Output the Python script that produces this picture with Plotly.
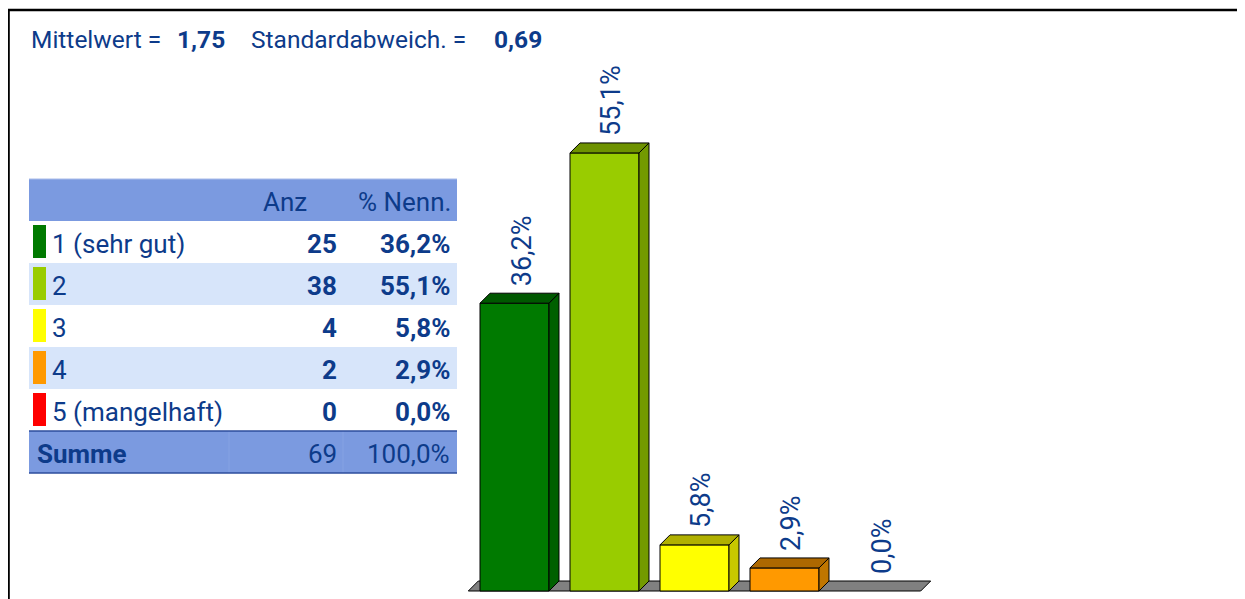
import plotly.graph_objects as go

# ---------------- data ----------------
categories = ["1 (sehr gut)", "2", "3", "4", "5 (mangelhaft)"]
counts = [25, 38, 4, 2, 0]
percents = [36.2, 55.1, 5.8, 2.9, 0.0]
total_label = "Summe"
total_count = 69
total_percent = 100.0
mean_value = "1,75"
std_value = "0,69"
header_labels = ["Anz", "% Nenn."]

front_colors = ["#007a00", "#99cc00", "#ffff00", "#ff9900", "#ff0000"]
side_colors = ["#006000", "#739a00", "#c8c800", "#c07600", "#c00000"]
top_colors = ["#005800", "#6e9200", "#b0b000", "#ad6800", "#a00000"]

# ---------------- style ----------------
OFF = 8  # page body margin
W, H = 1245 - OFF, 599 - OFF
TXT = "#0d3b8a"
FONT = "Roboto, sans-serif"
HEAD_BG = "#7b9ae0"
ROW_ALT = "#d7e5fa"
TS = 26     # table font size
TT = 24.5   # title font size


def px(x):
    return (x - OFF) / W


def py(y):
    return 1 - (y - OFF) / H


def fmt_pct(v):
    return f"{v:.1f}".replace(".", ",") + "%"


fig = go.Figure()

# 3D geometry (data units)
half = 0.3833
dx = 0.111
dy = 1.258
pad = 0.13
n = len(categories)

fx0, fx1 = -half - pad, (n - 1) + half + pad
fig.add_trace(go.Scatter(
    x=[fx0, fx1, fx1 + dx, fx0 + dx, fx0], y=[0, 0, dy, dy, 0],
    fill="toself", fillcolor="#808080", mode="lines",
    line=dict(color="black", width=1), hoverinfo="skip", showlegend=False))

for i, v in enumerate(percents):
    if v > 0:
        l, r = i - half, i + half
        fig.add_trace(go.Scatter(
            x=[l, r, r, l, l], y=[0, 0, v, v, 0], fill="toself",
            fillcolor=front_colors[i], mode="lines",
            line=dict(color="black", width=1), hoverinfo="skip", showlegend=False))
        fig.add_trace(go.Scatter(
            x=[r, r + dx, r + dx, r, r], y=[0, dy, v + dy, v, 0], fill="toself",
            fillcolor=side_colors[i], mode="lines",
            line=dict(color="black", width=1), hoverinfo="skip", showlegend=False))
        fig.add_trace(go.Scatter(
            x=[l, r, r + dx, l + dx, l], y=[v, v, v + dy, v + dy, v], fill="toself",
            fillcolor=top_colors[i], mode="lines",
            line=dict(color="black", width=1), hoverinfo="skip", showlegend=False))
    fig.add_annotation(
        x=i + dx / 2, y=v + dy, xref="x", yref="y", text=fmt_pct(v),
        textangle=-90, showarrow=False, xanchor="center", yanchor="bottom",
        yshift=5, xshift=2, font=dict(family=FONT, size=27, color=TXT))

fig.update_xaxes(range=[-0.6056, 4.7278], domain=[px(460), px(940)], visible=False, fixedrange=True)
fig.update_yaxes(range=[-0.503, 66.79], domain=[py(595), py(60)], visible=False, fixedrange=True)

shapes = []
annots = []

# frame lines
shapes.append(dict(type="line", xref="paper", yref="paper", x0=px(7), x1=px(1245), y0=py(10), y1=py(10),
                   line=dict(color="black", width=2.5)))
shapes.append(dict(type="line", xref="paper", yref="paper", x0=px(8.7), x1=px(8.7), y0=py(9), y1=py(600),
                   line=dict(color="black", width=2.2)))

# title
title_parts = [("Mittelwert =", 29, False), (mean_value, 175, True),
               ("Standardabweich. =", 249, False), (std_value, 492, True)]
for t, xx, b in title_parts:
    annots.append(dict(x=px(xx), y=py(40), xref="paper", yref="paper", text=f"<b>{t}</b>" if b else t,
                       showarrow=False, xanchor="left", yanchor="middle",
                       font=dict(family=FONT, size=TT, color=TXT)))

# table
TX0, TX1 = 29, 457
ROW_H = 42
HEAD_TOP = 179
shapes.append(dict(type="rect", xref="paper", yref="paper", x0=px(TX0), x1=px(TX1),
                   y0=py(HEAD_TOP), y1=py(HEAD_TOP + ROW_H), fillcolor=HEAD_BG, line=dict(width=0)))
shapes.append(dict(type="line", xref="paper", yref="paper", x0=px(TX0), x1=px(TX1),
                   y0=py(HEAD_TOP), y1=py(HEAD_TOP), line=dict(color="#a9bbe9", width=1)))
annots.append(dict(x=px(309), y=py(HEAD_TOP + 23), xref="paper", yref="paper", text=header_labels[0],
                   showarrow=False, xanchor="right", yanchor="middle", font=dict(family=FONT, size=TS, color=TXT)))
annots.append(dict(x=px(453), y=py(HEAD_TOP + 23), xref="paper", yref="paper", text=header_labels[1],
                   showarrow=False, xanchor="right", yanchor="middle", font=dict(family=FONT, size=TS, color=TXT)))

for i, cat in enumerate(categories):
    top = HEAD_TOP + ROW_H * (i + 1)
    if i % 2 == 1:
        shapes.append(dict(type="rect", xref="paper", yref="paper", x0=px(TX0), x1=px(TX1),
                           y0=py(top), y1=py(top + ROW_H), fillcolor=ROW_ALT, line=dict(width=0)))
    shapes.append(dict(type="rect", xref="paper", yref="paper", x0=px(33), x1=px(46),
                       y0=py(top + 4), y1=py(top + 37), fillcolor=front_colors[i], line=dict(width=0)))
    cy = py(top + 23)
    annots.append(dict(x=px(50), y=cy, xref="paper", yref="paper", text=cat, showarrow=False,
                       xanchor="left", yanchor="middle", font=dict(family=FONT, size=TS, color=TXT)))
    annots.append(dict(x=px(339), y=cy, xref="paper", yref="paper", text=f"<b>{counts[i]}</b>", showarrow=False,
                       xanchor="right", yanchor="middle", font=dict(family=FONT, size=TS, color=TXT)))
    annots.append(dict(x=px(452), y=cy, xref="paper", yref="paper", text=f"<b>{fmt_pct(percents[i])}</b>",
                       showarrow=False, xanchor="right", yanchor="middle",
                       font=dict(family=FONT, size=TS, color=TXT)))

sum_top = HEAD_TOP + ROW_H * (n + 1)
shapes.append(dict(type="rect", xref="paper", yref="paper", x0=px(TX0), x1=px(TX1),
                   y0=py(sum_top), y1=py(sum_top + ROW_H), fillcolor=HEAD_BG, line=dict(width=0)))
for xx in (229, 343):
    shapes.append(dict(type="line", xref="paper", yref="paper", x0=px(xx), x1=px(xx),
                       y0=py(sum_top), y1=py(sum_top + ROW_H), line=dict(color="#86a2e3", width=1)))
for yy in (sum_top, sum_top + ROW_H):
    shapes.append(dict(type="line", xref="paper", yref="paper", x0=px(TX0), x1=px(TX1),
                       y0=py(yy), y1=py(yy), line=dict(color="#2d4d9c", width=1.5)))
scy = py(sum_top + 23)
annots.append(dict(x=px(35), y=scy, xref="paper", yref="paper", text=f"<b>{total_label}</b>", showarrow=False,
                   xanchor="left", yanchor="middle", font=dict(family=FONT, size=TS, color=TXT)))
annots.append(dict(x=px(339), y=scy, xref="paper", yref="paper", text=str(total_count), showarrow=False,
                   xanchor="right", yanchor="middle", font=dict(family=FONT, size=TS, color=TXT)))
annots.append(dict(x=px(452), y=scy, xref="paper", yref="paper", text=fmt_pct(total_percent), showarrow=False,
                   xanchor="right", yanchor="middle", font=dict(family=FONT, size=TS, color=TXT)))

fig.update_layout(
    width=W, height=H, margin=dict(l=0, r=0, t=0, b=0),
    paper_bgcolor="white", plot_bgcolor="white", showlegend=False,
    shapes=shapes, annotations=list(fig.layout.annotations) + annots,
)

fig.write_html("out.html")
